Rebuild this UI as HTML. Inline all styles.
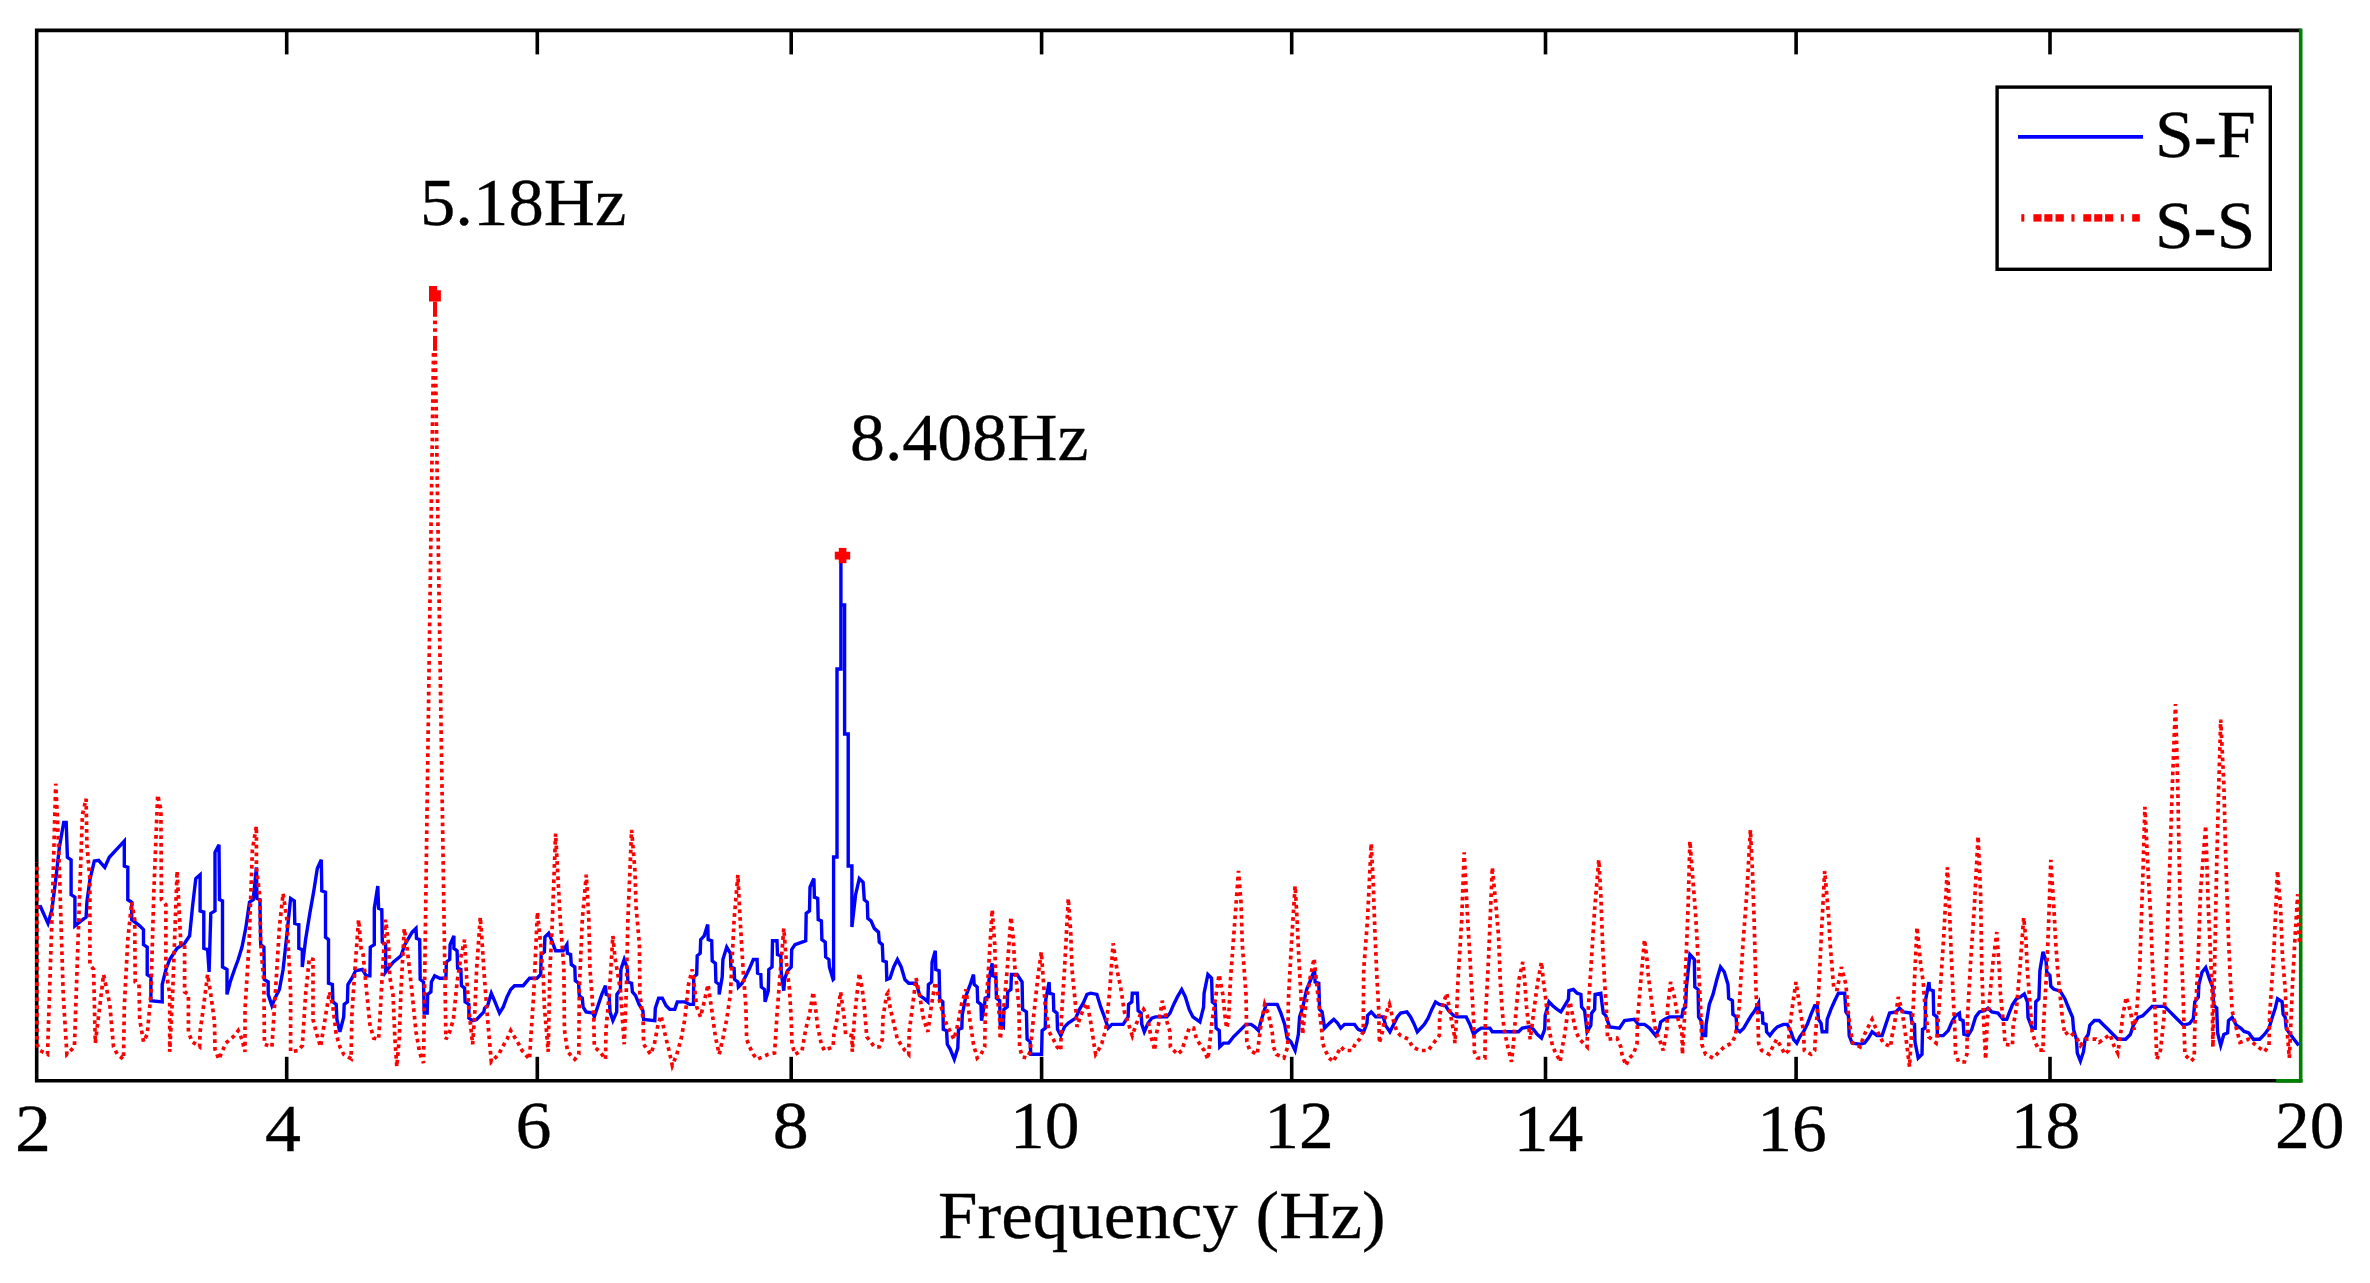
<!DOCTYPE html>
<html><head><meta charset="utf-8"><title>Frequency spectrum</title>
<style>
html,body{margin:0;padding:0;background:#fff;}
body{width:2370px;height:1283px;overflow:hidden;}
svg{display:block;}
text{font-family:"Liberation Serif",serif;fill:#000;stroke:#000;stroke-width:0.3;}
.ax{stroke:#000;stroke-width:3.6;fill:none;stroke-linecap:butt;}
.tl{font-size:67px;}
.bl{stroke:#0000ff;stroke-width:3.4;fill:none;stroke-linejoin:miter;}
.rd{stroke:#ff0000;stroke-width:3.7;fill:none;stroke-dasharray:3.7 4;}
</style></head><body>
<svg width="2370" height="1283" viewBox="0 0 2370 1283">
<rect x="0" y="0" width="2370" height="1283" fill="#fff"/>
<polyline class="ax" points="2300.7,30.4 36.7,30.4 36.7,1080.8 2300.7,1080.8"/>
<line x1="2300.7" y1="28.599999999999998" x2="2300.7" y2="1082.6" stroke="#008000" stroke-width="3.6"/>
<line x1="2276.2" y1="1080.8" x2="2302.5" y2="1080.8" stroke="#008000" stroke-width="3.6"/>
<line x1="286.7" y1="1080.8" x2="286.7" y2="1056.8" class="ax"/><line x1="286.7" y1="30.4" x2="286.7" y2="54.4" class="ax"/><line x1="537.3" y1="1080.8" x2="537.3" y2="1056.8" class="ax"/><line x1="537.3" y1="30.4" x2="537.3" y2="54.4" class="ax"/><line x1="791.2" y1="1080.8" x2="791.2" y2="1056.8" class="ax"/><line x1="791.2" y1="30.4" x2="791.2" y2="54.4" class="ax"/><line x1="1041.6" y1="1080.8" x2="1041.6" y2="1056.8" class="ax"/><line x1="1041.6" y1="30.4" x2="1041.6" y2="54.4" class="ax"/><line x1="1291.7" y1="1080.8" x2="1291.7" y2="1056.8" class="ax"/><line x1="1291.7" y1="30.4" x2="1291.7" y2="54.4" class="ax"/><line x1="1545.5" y1="1080.8" x2="1545.5" y2="1056.8" class="ax"/><line x1="1545.5" y1="30.4" x2="1545.5" y2="54.4" class="ax"/><line x1="1796.1" y1="1080.8" x2="1796.1" y2="1056.8" class="ax"/><line x1="1796.1" y1="30.4" x2="1796.1" y2="54.4" class="ax"/><line x1="2050.0" y1="1080.8" x2="2050.0" y2="1056.8" class="ax"/><line x1="2050.0" y1="30.4" x2="2050.0" y2="54.4" class="ax"/>
<polyline class="bl" points="36.2,907.2 40.5,906.7 48.0,923.4 51.9,909.7 55.7,879.7 59.4,847.3 63.7,822.4 66.2,822.4 67.4,857.3 71.1,859.8 71.1,894.7 74.9,897.2 74.9,925.9 81.1,920.9 86.1,917.1 86.9,902.2 89.9,879.7 94.3,861.0 98.6,860.3 104.8,867.3 109.3,857.3 117.3,848.6 124.3,841.1 124.3,866.0 127.8,867.3 127.8,899.7 131.7,902.2 131.7,919.6 139.7,925.9 143.5,929.6 143.5,944.6 147.2,947.1 147.2,974.5 150.9,977.0 150.9,1000.7 162.2,1001.9 162.2,984.5 165.9,969.5 169.7,959.5 177.1,948.3 184.6,943.3 189.6,935.8 192.6,905.9 195.8,878.5 200.1,874.7 200.1,910.9 203.8,912.1 203.8,948.3 207.6,949.6 209.1,972.0 210.8,913.4 215.0,910.9 215.0,852.3 219.0,844.8 219.5,899.7 222.5,900.9 222.5,967.0 227.0,969.5 227.0,994.4 230.2,982.0 234.5,969.5 238.2,959.5 242.0,947.1 245.7,928.4 249.5,902.2 253.2,899.7 256.4,867.3 256.9,898.4 259.9,899.7 260.7,944.6 263.9,947.1 264.4,979.5 268.2,982.0 268.2,994.4 271.9,1005.7 275.6,996.9 279.4,989.5 283.1,969.5 286.9,934.6 290.6,898.4 294.3,900.9 294.8,923.4 298.8,924.6 298.8,948.3 302.3,949.6 302.3,967.0 305.6,939.6 309.8,913.4 313.8,890.9 317.3,868.5 321.3,859.8 321.8,890.9 325.5,892.2 325.5,937.1 328.5,939.6 328.5,983.2 332.4,984.5 332.9,1001.9 336.2,1004.4 336.9,1019.4 339.9,1031.8 343.7,1016.9 344.2,1004.4 347.4,1001.9 347.9,984.5 351.9,978.2 355.6,970.7 362.4,969.5 366.1,975.7 369.9,975.7 370.3,947.1 374.3,944.6 374.3,908.4 377.8,886.0 378.6,908.4 381.8,909.7 382.3,942.1 385.6,944.6 385.6,972.0 389.3,967.0 393.5,962.0 401.0,955.8 404.8,944.6 408.5,938.3 412.2,932.1 416.0,928.4 416.5,938.3 419.7,939.6 420.2,979.5 423.5,982.0 424.2,1013.1 427.2,1013.1 427.7,994.4 430.9,991.9 431.4,982.0 434.7,975.7 439.7,978.2 445.9,978.2 446.4,962.0 449.7,959.5 450.1,944.6 453.9,935.8 453.9,948.3 457.1,950.8 457.6,968.3 460.9,969.5 461.4,985.7 464.6,988.2 465.1,1001.9 468.9,1004.4 468.9,1018.1 472.6,1020.6 476.6,1019.4 483.8,1011.9 484.6,1008.2 487.6,1005.7 491.3,993.2 495.0,1001.9 499.5,1013.1 503.3,1006.9 507.0,996.9 510.7,989.5 514.5,985.7 523.2,985.7 529.5,978.2 536.9,978.2 540.7,974.5 541.2,954.5 544.4,952.0 544.9,937.1 548.7,933.3 551.9,940.8 555.6,950.8 563.1,950.8 566.9,944.6 567.4,953.3 570.6,954.5 571.3,964.5 574.8,967.0 575.3,980.7 578.6,983.2 579.3,995.7 582.3,998.2 583.1,1006.9 586.1,1011.9 593.0,1013.1 594.3,1016.9 598.0,1005.7 601.8,994.4 605.5,985.7 606.2,994.4 609.2,995.7 610.0,1011.9 612.9,1020.6 616.7,1011.9 616.9,994.4 620.4,989.5 620.9,969.5 624.2,959.5 627.4,968.3 627.9,982.0 631.6,983.2 632.4,991.9 635.6,995.7 639.1,1004.4 642.9,1010.6 643.6,1019.4 654.8,1020.6 655.3,1008.2 658.6,998.2 662.3,998.2 666.1,1005.7 669.8,1009.4 674.8,1009.4 677.3,1001.9 684.8,1001.9 689.8,1004.4 693.5,1004.4 693.7,977.0 696.7,974.5 697.2,955.8 700.2,953.3 700.7,939.6 704.2,935.8 707.7,924.6 708.2,939.6 711.7,940.8 712.2,960.8 715.4,963.3 715.9,982.0 719.2,984.5 719.2,994.4 722.2,977.0 722.9,959.5 726.7,947.1 730.4,953.3 730.9,967.0 734.1,968.3 734.6,979.5 737.9,982.0 738.4,987.0 742.1,983.2 745.9,975.7 749.6,968.3 753.3,959.5 757.1,959.5 757.6,973.2 760.8,974.5 761.3,987.0 764.6,989.5 765.1,1001.9 768.3,990.7 768.8,969.5 772.0,967.0 772.5,940.8 777.0,940.8 777.5,954.5 780.8,955.8 781.3,973.2 783.8,990.7 784.5,979.5 787.5,970.7 791.2,967.0 791.7,949.6 795.0,944.6 802.0,942.1 805.7,940.8 806.2,913.4 809.5,910.9 810.0,887.2 813.9,878.5 814.4,897.2 817.7,898.4 818.2,919.6 821.4,920.9 821.9,939.6 825.2,942.1 825.7,957.0 828.9,959.5 829.4,967.0 833.1,979.5 833.6,979.0 833.6,857.0 837.0,857.0 837.0,669.0 840.9,669.0 840.9,556.0 840.9,605.0 844.6,605.0 844.6,734.0 848.2,734.0 848.2,866.0 851.9,866.0 851.9,927.0 855.6,894.7 859.3,878.5 863.1,882.2 864.3,899.7 867.3,902.2 867.8,918.4 871.0,920.9 874.3,928.4 878.5,932.1 879.3,942.1 882.3,944.6 883.0,960.8 886.3,962.0 886.8,979.5 890.0,978.2 893.7,967.0 897.4,959.5 901.2,967.0 904.9,979.5 908.7,983.2 916.1,983.2 919.9,995.7 923.6,998.2 927.9,1001.9 928.4,984.5 931.6,982.0 932.1,962.0 935.3,950.8 935.8,969.5 939.1,970.7 939.8,999.4 942.8,1001.9 943.3,1029.4 946.6,1030.6 947.3,1044.3 950.3,1049.3 954.3,1059.3 957.8,1048.1 958.5,1029.4 961.8,1028.1 962.3,1014.4 966.0,995.7 969.8,985.7 973.5,974.5 974.2,984.5 977.2,987.0 977.7,1001.9 981.0,1004.4 981.5,1020.6 984.7,1003.2 985.2,998.2 988.5,996.9 989.0,979.5 992.2,963.3 992.7,975.7 995.9,977.0 996.4,998.2 999.7,1000.7 1000.2,1024.4 1003.4,1026.9 1003.9,1009.4 1007.2,1006.9 1007.7,991.9 1010.9,989.5 1011.4,974.5 1017.1,974.5 1022.1,982.0 1022.6,1009.4 1026.4,1011.9 1027.1,1039.3 1030.1,1041.8 1030.8,1054.3 1041.6,1054.3 1042.1,1030.6 1045.3,1028.1 1045.8,999.4 1049.1,982.0 1049.6,993.2 1053.3,994.4 1053.8,1010.6 1057.0,1013.1 1057.5,1029.4 1060.8,1035.6 1064.5,1026.9 1068.3,1023.1 1075.7,1018.1 1079.5,1009.4 1083.2,1003.2 1087.0,994.4 1090.7,993.2 1096.9,994.4 1100.7,1006.9 1104.4,1016.9 1108.2,1028.1 1111.9,1024.4 1123.1,1024.4 1128.1,1016.9 1128.6,1004.4 1131.8,1001.9 1132.3,993.2 1137.3,993.2 1138.1,1010.6 1141.1,1013.1 1141.8,1024.4 1144.3,1031.8 1148.1,1023.1 1151.8,1018.1 1155.5,1016.9 1166.8,1016.9 1170.0,1013.1 1173.7,1004.4 1177.4,996.9 1181.7,989.5 1185.4,996.9 1189.2,1009.4 1192.9,1016.9 1199.9,1021.9 1203.6,1006.9 1204.1,993.2 1207.9,974.5 1211.6,978.2 1212.3,1001.9 1215.3,1004.4 1216.1,1028.1 1219.3,1030.6 1219.8,1046.8 1223.6,1043.1 1228.6,1043.1 1233.5,1036.8 1239.8,1030.6 1246.0,1024.4 1251.0,1024.4 1254.7,1026.9 1258.5,1030.6 1261.0,1020.6 1264.7,1009.4 1266.0,1004.4 1277.2,1004.4 1280.9,1013.1 1284.7,1024.4 1287.2,1038.1 1290.9,1041.8 1295.1,1050.5 1298.4,1034.3 1299.6,1016.9 1302.9,1006.9 1306.6,989.5 1310.8,979.5 1314.6,969.5 1315.1,982.0 1318.8,983.2 1319.6,1009.4 1322.1,1011.9 1324.6,1028.1 1329.6,1023.1 1333.8,1019.4 1337.5,1023.1 1340.8,1028.1 1344.5,1024.4 1354.5,1024.4 1358.2,1029.4 1363.7,1031.8 1367.0,1023.1 1367.5,1015.6 1371.2,1011.9 1375.7,1016.9 1383.2,1016.9 1385.7,1025.6 1389.9,1031.8 1393.6,1024.4 1397.4,1016.9 1400.6,1013.1 1406.9,1011.9 1410.6,1016.9 1414.3,1024.4 1417.3,1031.8 1424.3,1024.4 1428.1,1018.1 1431.8,1009.4 1435.5,1001.9 1439.3,1004.4 1445.5,1005.7 1448.7,1010.6 1453.7,1015.6 1457.4,1016.9 1466.2,1016.9 1469.9,1024.4 1473.6,1034.3 1477.4,1030.6 1481.1,1028.1 1489.9,1028.1 1492.3,1031.8 1518.5,1031.8 1522.3,1028.1 1529.8,1026.9 1533.5,1029.4 1537.2,1034.3 1541.5,1038.1 1544.7,1029.4 1545.2,1015.6 1549.0,1001.9 1552.7,1005.7 1557.2,1009.4 1560.9,1011.9 1564.7,1005.7 1568.4,999.4 1568.9,990.7 1573.4,989.5 1577.1,993.2 1580.9,994.4 1581.6,1006.9 1584.6,1010.6 1587.1,1031.8 1590.8,1025.6 1591.6,1013.1 1594.6,1009.4 1595.1,994.4 1600.8,993.2 1602.1,1004.4 1603.3,1013.1 1605.8,1015.6 1609.6,1026.9 1619.5,1028.1 1624.5,1020.6 1634.5,1019.4 1638.2,1024.4 1644.5,1024.4 1649.5,1028.1 1655.7,1035.6 1659.4,1028.1 1660.7,1021.9 1664.4,1019.4 1669.4,1016.9 1681.9,1016.9 1683.1,1009.4 1685.6,1006.9 1686.4,987.0 1689.9,954.5 1694.3,959.5 1694.8,987.0 1698.1,989.5 1698.6,1016.9 1701.8,1021.9 1702.3,1035.6 1705.6,1035.6 1706.1,1024.4 1709.3,1004.4 1713.0,994.4 1716.8,979.5 1720.5,967.0 1724.3,972.0 1728.0,984.5 1728.7,998.2 1732.4,1000.7 1732.9,1014.4 1736.2,1016.9 1736.7,1029.4 1739.9,1031.8 1743.7,1028.1 1747.4,1021.9 1751.1,1015.6 1754.9,1010.6 1758.6,1003.2 1759.1,1011.9 1762.4,1013.1 1762.9,1023.1 1766.1,1024.4 1766.6,1031.8 1769.9,1035.6 1773.6,1030.6 1777.3,1026.9 1783.6,1024.4 1787.3,1024.4 1791.0,1031.8 1793.5,1039.3 1796.8,1043.1 1799.8,1036.8 1803.5,1031.8 1807.3,1024.4 1811.0,1014.4 1814.7,1005.7 1817.2,1005.7 1818.5,1019.4 1821.0,1023.1 1822.2,1031.8 1826.7,1031.8 1827.2,1019.4 1830.9,1009.4 1834.7,1000.7 1838.4,993.2 1844.7,993.2 1845.9,1011.9 1848.4,1015.6 1849.2,1035.6 1852.1,1043.1 1859.6,1044.3 1864.6,1043.1 1868.4,1038.1 1872.1,1031.8 1877.1,1035.6 1882.1,1035.6 1885.8,1024.4 1889.6,1013.1 1895.8,1011.9 1899.5,1008.2 1903.3,1011.9 1910.7,1013.1 1912.0,1023.1 1914.5,1024.4 1915.0,1041.8 1918.2,1058.0 1922.0,1054.3 1922.5,1029.4 1925.0,1028.1 1925.7,999.4 1929.0,982.0 1929.5,989.5 1933.2,990.7 1933.7,1014.4 1936.9,1016.9 1937.4,1035.6 1943.2,1035.6 1948.2,1030.6 1951.9,1021.9 1955.6,1015.6 1959.4,1013.1 1960.1,1019.4 1963.1,1020.6 1963.9,1034.3 1968.1,1035.6 1971.8,1029.4 1975.6,1016.9 1979.3,1011.9 1984.3,1010.6 1988.1,1008.2 1991.8,1011.9 1998.0,1013.1 2003.0,1019.4 2006.8,1019.4 2008.7,1014.2 2012.4,1004.9 2016.5,998.7 2020.2,997.1 2024.3,994.0 2027.4,1001.8 2028.0,1017.4 2032.1,1028.3 2035.2,1028.3 2035.8,1001.8 2038.9,998.7 2039.9,970.6 2043.0,951.9 2046.1,961.2 2046.7,972.2 2049.9,975.3 2050.8,986.2 2053.9,989.3 2060.1,990.9 2064.8,998.7 2068.6,1008.0 2072.6,1017.4 2073.6,1029.8 2076.4,1039.2 2077.3,1053.2 2080.4,1061.0 2083.5,1051.7 2085.1,1039.2 2088.2,1034.5 2089.8,1025.2 2094.4,1020.5 2099.1,1020.5 2103.8,1025.2 2108.5,1029.8 2113.1,1034.5 2117.8,1039.2 2125.6,1039.2 2130.3,1034.5 2133.4,1025.2 2138.1,1017.4 2142.8,1015.8 2147.4,1011.1 2152.1,1006.4 2164.6,1006.4 2169.3,1011.1 2173.9,1015.8 2178.6,1020.5 2183.3,1025.2 2189.5,1023.6 2193.3,1018.9 2194.8,1001.8 2198.3,997.1 2198.9,984.6 2202.0,972.2 2205.7,967.5 2209.8,979.9 2212.9,987.7 2213.5,1004.9 2216.7,1008.0 2217.6,1032.9 2220.7,1045.4 2223.8,1034.5 2227.6,1032.9 2228.5,1020.5 2232.2,1017.4 2236.3,1025.2 2241.0,1028.3 2244.1,1031.4 2248.8,1032.9 2253.4,1039.2 2259.7,1039.2 2264.4,1034.5 2269.0,1028.3 2272.2,1017.4 2275.3,1008.0 2277.5,998.7 2282.1,1001.8 2283.1,1014.2 2285.2,1017.4 2286.2,1028.3 2289.3,1032.9 2294.0,1039.2 2298.7,1045.4"/>
<polyline class="rd" points="433.5,353.0 423.5,1063.0 419.7,1053.0 416.0,1031.8 412.2,994.4 409.8,972.0 407.3,949.6 404.3,928.4 401.0,989.5 399.3,1038.1 396.8,1066.8 394.8,1036.8 393.0,994.4 389.8,977.0 388.6,944.6 385.6,919.6 382.3,974.5 379.8,1019.4 378.6,1039.3 373.6,1038.1 369.9,1024.4 366.9,994.4 363.1,954.5 361.1,948.3 358.6,919.6 354.9,969.5 351.9,1014.4 351.1,1058.8 343.7,1054.3 339.9,1046.8 336.2,1034.3 332.9,1006.9 329.5,991.9 325.0,1019.4 320.5,1046.8 316.8,1034.3 313.0,1019.4 313.0,959.5 309.3,958.3 305.6,994.4 302.3,1045.6 298.1,1050.5 290.6,1051.8 290.6,991.9 286.9,919.6 283.1,893.4 279.4,927.1 275.6,989.5 271.9,1046.8 264.4,1044.3 263.9,982.0 260.7,944.6 259.9,897.2 256.4,867.3 256.4,826.1 252.4,849.8 249.0,944.6 245.0,1009.4 245.0,1051.8 242.0,1039.3 238.2,1030.6 234.5,1035.6 225.8,1043.1 218.8,1059.3 215.0,1049.3 214.5,1021.9 210.8,994.4 207.6,974.5 203.8,1004.4 200.1,1031.8 199.6,1046.8 192.1,1041.8 188.4,1031.8 188.4,994.4 184.6,991.9 184.6,944.6 180.9,944.6 177.1,871.0 172.6,994.4 169.7,1051.8 169.7,994.4 165.9,969.5 165.9,904.7 161.4,899.7 160.9,809.9 157.7,794.9 153.9,889.7 150.9,994.4 147.2,1034.3 143.5,1041.8 139.7,1019.4 139.0,984.5 135.2,982.0 134.7,919.6 131.7,902.2 127.8,939.6 124.3,1006.9 123.5,1059.3 117.3,1054.3 113.5,1046.8 109.8,1004.4 103.6,974.5 95.3,1043.1 93.6,969.5 89.9,964.5 89.9,879.7 86.9,844.8 86.1,798.7 82.4,814.9 78.6,924.6 74.4,1046.8 66.9,1054.3 63.2,994.4 59.4,869.8 57.4,817.4 55.7,783.7 51.9,919.6 47.5,1054.3 40.0,1050.5 37.0,1044.3 37.0,862.3"/>
<polyline class="rd" points="435.3,353.0 445.9,1039.3 449.7,1031.8 453.4,1019.4 457.1,982.0 460.9,957.0 464.6,939.6 466.6,977.0 468.9,1009.4 472.6,1044.3 474.6,1016.9 476.6,969.5 480.3,917.1 482.1,942.1 483.8,969.5 487.6,1019.4 491.3,1061.8 498.8,1054.3 502.5,1046.8 507.0,1039.3 510.7,1030.6 518.2,1043.1 522.0,1050.5 529.5,1059.3 530.7,1039.3 533.7,994.4 537.4,912.1 540.7,944.6 543.2,977.0 544.4,1006.9 548.2,1051.8 549.9,969.5 551.9,932.1 555.6,833.6 560.1,917.1 563.9,969.5 564.4,1029.4 567.6,1051.8 574.8,1059.3 578.8,1054.3 579.3,989.5 582.3,919.6 586.3,874.7 588.8,919.6 590.0,969.5 593.8,1019.4 594.3,1046.8 600.0,1051.8 605.5,1059.3 606.0,1029.4 609.2,994.4 612.9,935.8 614.9,957.0 617.4,972.0 620.4,989.5 622.4,1019.4 624.2,1044.3 626.2,994.4 627.9,919.6 631.6,829.9 634.9,869.8 636.1,907.2 639.4,944.6 639.9,994.4 643.1,1019.4 643.6,1044.3 650.6,1054.3 654.3,1044.3 658.1,1024.4 661.1,1015.6 665.6,1036.8 669.3,1051.8 672.3,1065.5 676.8,1054.3 681.0,1039.3 684.8,1019.4 688.5,984.5 692.2,969.5 694.7,989.5 696.7,1006.9 700.5,1016.9 704.2,1001.9 708.0,984.5 711.7,1009.4 715.4,1036.8 719.2,1054.3 722.9,1038.1 726.7,1019.4 730.4,994.4 734.1,919.6 737.9,874.7 739.6,909.7 741.6,944.6 743.4,974.5 745.9,1006.9 746.6,1039.3 749.6,1046.8 753.3,1054.3 757.1,1059.3 768.3,1054.3 774.5,1053.0 775.8,1034.3 777.0,1014.4 779.5,982.0 783.8,928.4 787.0,969.5 789.5,989.5 791.2,1019.4 792.0,1044.3 795.0,1054.3 802.0,1050.5 805.7,1029.4 809.5,1014.4 813.2,991.9 815.7,1009.4 817.7,1026.9 821.4,1044.3 824.4,1050.5 833.1,1046.8 833.9,1034.3 836.9,1019.4 840.6,991.9 844.4,1019.4 845.6,1034.3 851.8,1035.6 852.3,1051.8 854.3,1019.4 856.1,1001.9 859.3,973.2 862.3,989.5 864.3,1006.9 866.8,1036.8 874.3,1046.8 879.3,1046.8 882.3,1039.3 883.0,1016.9 886.8,994.4 888.0,992.7 890.0,1006.9 893.7,1023.1 897.4,1039.3 904.9,1050.5 908.7,1054.3 909.2,1031.8 912.4,1006.9 916.1,978.2 919.9,996.9 923.6,1019.4 927.9,1031.8 931.6,1004.4 935.3,982.0 939.1,999.4 942.8,1013.1 946.6,1024.4 954.0,1039.3 957.8,1024.4 961.5,1004.4 966.0,989.5 969.8,1019.4 973.5,1044.3 977.2,1058.0 981.0,1054.3 984.7,1046.8 985.2,1019.4 988.5,969.5 992.2,909.7 994.7,944.6 995.9,982.0 999.7,1019.4 1000.2,1039.3 1003.4,1011.9 1007.2,969.5 1010.9,917.1 1013.4,939.6 1014.6,964.5 1018.9,1006.9 1019.6,1046.8 1022.1,1056.8 1027.1,1058.0 1030.1,1051.8 1033.8,1014.4 1037.6,979.5 1041.3,952.0 1043.3,979.5 1045.3,1006.9 1049.1,1031.8 1053.3,1039.3 1057.0,1046.8 1060.8,1050.5 1061.3,1019.4 1064.5,969.5 1068.3,898.4 1070.7,932.1 1072.0,969.5 1075.7,1006.9 1077.0,1026.9 1079.5,1019.4 1083.2,1009.4 1087.0,1003.2 1090.7,1021.9 1094.4,1046.8 1095.7,1054.3 1098.2,1050.5 1101.9,1043.1 1105.7,1029.4 1109.4,994.4 1113.1,943.3 1116.9,969.5 1120.6,987.0 1124.4,1011.9 1128.6,1024.4 1132.3,1035.6 1136.1,1024.4 1139.8,1015.6 1143.6,1009.4 1147.3,1015.6 1151.0,1036.8 1154.8,1050.5 1155.5,1038.1 1158.5,1024.4 1162.3,1000.7 1166.0,1016.9 1166.2,1019.4 1170.0,1031.8 1170.4,1046.8 1177.4,1054.3 1181.7,1050.5 1185.4,1039.3 1189.2,1028.1 1193.6,1028.1 1196.6,1039.3 1204.1,1050.5 1207.9,1059.3 1209.9,1041.8 1211.6,1024.4 1215.3,999.4 1219.1,974.5 1222.8,994.4 1224.8,1014.4 1226.6,1028.1 1228.6,1019.4 1230.3,982.0 1234.0,932.1 1238.5,871.0 1241.0,902.2 1242.3,944.6 1246.0,994.4 1246.8,1041.8 1249.8,1050.5 1257.2,1054.3 1261.0,1024.4 1264.7,1004.4 1268.5,1014.4 1272.2,1031.8 1273.4,1046.8 1276.4,1054.3 1283.9,1058.0 1287.7,1046.8 1288.4,999.4 1291.4,944.6 1295.1,886.0 1297.1,919.6 1298.9,959.5 1300.9,994.4 1302.6,1034.3 1304.6,1014.4 1306.6,999.4 1310.3,977.0 1314.1,958.3 1317.8,994.4 1321.6,1029.4 1322.6,1043.1 1325.3,1050.5 1329.1,1058.0 1333.3,1061.8 1337.0,1054.3 1340.8,1046.8 1344.5,1050.5 1352.0,1050.5 1355.7,1043.1 1359.5,1039.3 1363.2,1031.8 1363.7,969.5 1367.5,919.6 1371.2,843.6 1373.2,882.2 1374.9,932.1 1376.9,977.0 1378.7,1009.4 1379.4,1043.1 1382.4,1031.8 1385.7,1014.4 1389.4,1004.4 1393.1,1019.4 1396.9,1031.8 1400.6,1035.6 1408.6,1039.3 1412.3,1046.8 1419.8,1050.5 1428.1,1050.5 1439.3,1035.6 1439.8,1014.4 1443.0,1004.4 1446.8,993.2 1450.4,1014.4 1454.2,1034.3 1454.9,1043.1 1456.2,1024.4 1457.9,982.0 1461.7,919.6 1464.2,852.3 1467.4,914.6 1469.9,957.0 1471.9,991.9 1473.6,1019.4 1474.4,1051.8 1477.4,1058.0 1484.9,1058.0 1485.4,1019.4 1488.6,957.0 1492.3,867.3 1496.1,907.2 1498.6,937.1 1500.3,982.0 1502.3,1011.9 1504.1,1029.4 1507.8,1046.8 1511.5,1061.8 1513.5,1043.1 1515.3,1019.4 1519.0,979.5 1522.8,962.0 1524.8,982.0 1526.5,1006.9 1530.2,1039.3 1532.2,1024.4 1534.0,1009.4 1537.7,982.0 1541.5,962.0 1543.5,982.0 1545.2,994.4 1549.0,1029.4 1552.7,1046.8 1560.2,1061.8 1561.7,1050.5 1564.7,1034.3 1568.4,1006.9 1570.1,1001.9 1573.4,1019.4 1575.9,1031.8 1579.6,1039.3 1587.1,1046.8 1587.6,1019.4 1590.8,969.5 1594.6,909.7 1598.8,859.8 1600.8,894.7 1602.6,944.6 1604.6,982.0 1606.3,1006.9 1607.6,1039.3 1617.0,1038.1 1620.8,1046.8 1622.0,1054.3 1625.8,1065.5 1629.5,1058.0 1633.2,1054.3 1637.0,1044.3 1637.5,1019.4 1640.7,982.0 1644.5,939.6 1647.0,959.5 1648.2,974.5 1651.9,1004.4 1655.7,1031.8 1659.4,1039.3 1663.2,1050.5 1666.9,1029.4 1667.4,1009.4 1670.6,982.0 1674.4,996.9 1678.1,1019.4 1681.9,1031.8 1682.4,1054.3 1684.4,1019.4 1685.6,969.5 1688.1,907.2 1689.9,841.1 1693.1,882.2 1695.6,914.6 1697.3,944.6 1700.6,1006.9 1701.8,1044.3 1705.6,1054.3 1713.0,1058.0 1724.3,1046.8 1731.7,1043.1 1735.4,1035.6 1739.2,1006.9 1742.9,944.6 1746.7,894.7 1750.4,829.9 1752.4,869.8 1754.1,919.6 1756.1,994.4 1757.9,1019.4 1758.6,1043.1 1761.6,1050.5 1769.1,1054.3 1772.8,1046.8 1776.6,1039.3 1781.1,1046.8 1784.8,1054.3 1788.6,1050.5 1789.1,1031.8 1792.3,1006.9 1796.0,982.0 1799.8,1006.9 1803.5,1031.8 1804.3,1050.5 1811.0,1054.3 1814.7,1050.5 1815.2,1039.3 1818.5,994.4 1821.5,932.1 1824.7,871.0 1828.5,914.6 1830.2,944.6 1832.2,969.5 1833.9,989.5 1837.2,989.5 1841.4,967.0 1845.9,984.5 1848.9,1019.4 1852.6,1043.1 1860.1,1046.8 1863.9,1035.6 1867.6,1028.1 1872.1,1019.4 1875.8,1028.1 1879.6,1035.6 1883.3,1043.1 1890.8,1046.8 1891.3,1039.3 1894.5,1024.4 1898.3,996.9 1902.0,1010.6 1905.8,1036.8 1909.5,1066.8 1911.2,1039.3 1913.2,1006.9 1915.0,969.5 1917.0,927.1 1920.7,964.5 1923.2,982.0 1925.0,1006.9 1928.7,1036.8 1936.2,1043.1 1936.9,1039.3 1939.9,994.4 1943.7,937.1 1947.4,867.3 1949.4,907.2 1951.1,952.0 1953.1,994.4 1954.9,1031.8 1955.6,1054.3 1958.6,1061.8 1964.4,1061.8 1966.9,1054.3 1967.4,1019.4 1970.6,962.0 1974.3,907.2 1978.1,836.1 1980.6,894.7 1981.8,969.5 1983.6,1019.4 1985.6,1059.3 1987.3,1019.4 1989.3,1001.9 1993.0,962.0 1996.8,932.1 1999.3,969.5 2000.5,994.4 2004.3,1031.8 2005.0,1044.3 2012.4,1045.4 2013.1,1026.7 2016.5,1008.0 2020.2,964.4 2023.7,917.6 2025.9,939.4 2027.4,970.6 2029.9,1001.8 2032.1,1031.4 2035.2,1042.3 2038.9,1050.1 2043.0,1050.1 2043.6,1023.6 2046.7,970.6 2048.6,923.8 2050.8,859.9 2053.9,908.2 2055.5,939.4 2057.7,970.6 2060.1,995.5 2062.3,1017.4 2064.8,1034.5 2069.5,1031.4 2072.6,1034.5 2077.3,1039.2 2080.4,1045.4 2085.1,1039.2 2096.0,1039.2 2099.1,1042.3 2110.0,1034.5 2113.8,1045.4 2117.8,1053.2 2121.6,1026.7 2122.5,1017.4 2126.2,997.1 2130.3,1011.1 2134.0,1029.8 2137.2,1004.9 2139.6,970.6 2141.2,923.8 2142.8,877.1 2144.9,806.9 2148.4,877.1 2150.6,914.5 2152.7,970.6 2155.2,1014.2 2156.8,1059.4 2160.5,1050.1 2164.0,1017.4 2166.1,970.6 2167.7,923.8 2169.9,861.5 2172.4,783.5 2175.5,704.0 2177.7,783.5 2179.2,861.5 2180.8,933.2 2183.3,1001.8 2184.9,1054.8 2191.1,1061.0 2194.2,1057.9 2194.8,1026.7 2198.3,955.0 2200.4,892.7 2205.7,825.6 2208.2,905.1 2209.8,939.4 2212.0,986.2 2212.9,1047.0 2214.5,970.6 2216.7,864.6 2218.5,794.4 2220.7,719.6 2223.8,783.5 2225.4,845.9 2226.9,892.7 2228.5,939.4 2230.7,986.2 2232.2,1011.1 2236.3,1028.3 2240.0,1042.3 2248.8,1039.2 2258.1,1047.0 2264.4,1051.7 2269.0,1045.4 2269.7,1014.2 2273.7,955.0 2277.5,870.8 2280.6,908.2 2282.4,955.0 2285.2,989.3 2286.8,1026.7 2289.3,1057.9 2290.5,1032.9 2292.4,986.2 2294.9,939.4 2297.7,894.2 2299.6,945.7"/>
<path fill="#f00" d="M429,286H437.1V290.2H440.9V301.6H429Z"/><rect x="433" y="301.6" width="4.1" height="15.2" fill="#f00"/><rect x="433" y="320.6" width="4.1" height="3.6" fill="#f00"/><rect x="433" y="328.3" width="4.1" height="3.5" fill="#f00"/><rect x="433" y="335.9" width="4.1" height="14.9" fill="#f00"/>
<rect x="834.8" y="551.7" width="15.4" height="7.8" fill="#f00"/>
<rect x="838.8" y="547.9" width="7.6" height="15.3" fill="#f00"/>
<text x="15.0" y="1151" class="tl" textLength="36" lengthAdjust="spacingAndGlyphs">2</text><text x="264.9" y="1151" class="tl" textLength="36" lengthAdjust="spacingAndGlyphs">4</text><text x="515.4" y="1147.5" class="tl" textLength="36" lengthAdjust="spacingAndGlyphs">6</text><text x="772.7" y="1147.5" class="tl" textLength="36" lengthAdjust="spacingAndGlyphs">8</text><text x="1009.9" y="1147.5" class="tl" textLength="69.5" lengthAdjust="spacingAndGlyphs">10</text><text x="1264.2" y="1147.5" class="tl" textLength="69.5" lengthAdjust="spacingAndGlyphs">12</text><text x="1513.8" y="1151" class="tl" textLength="69.5" lengthAdjust="spacingAndGlyphs">14</text><text x="1757.2" y="1151" class="tl" textLength="69.5" lengthAdjust="spacingAndGlyphs">16</text><text x="2010.8" y="1147.5" class="tl" textLength="69.5" lengthAdjust="spacingAndGlyphs">18</text><text x="2275.1" y="1147.5" class="tl" textLength="69.5" lengthAdjust="spacingAndGlyphs">20</text>
<rect x="1997.1" y="87.1" width="273.2" height="182.2" fill="#fff" stroke="#000" stroke-width="3.4"/>
<line x1="2018" y1="136.8" x2="2143" y2="136.8" stroke="#00f" stroke-width="3.8"/>
<rect x="2021.3" y="214.2" width="3.0" height="7.4" fill="#f00"/><rect x="2033.4" y="214.2" width="8.1" height="7.4" fill="#f00"/><rect x="2044.3" y="214.2" width="8.1" height="7.4" fill="#f00"/><rect x="2055.5" y="214.2" width="8.3" height="7.4" fill="#f00"/><rect x="2071.4" y="214.2" width="3.1" height="7.4" fill="#f00"/><rect x="2083.3" y="214.2" width="7.9" height="7.4" fill="#f00"/><rect x="2094.2" y="214.2" width="8.1" height="7.4" fill="#f00"/><rect x="2105.1" y="214.2" width="8.1" height="7.4" fill="#f00"/><rect x="2120.8" y="214.2" width="3.0" height="7.4" fill="#f00"/><rect x="2132.2" y="214.2" width="7.6" height="7.4" fill="#f00"/>
<text x="2155" y="157" class="tl" textLength="100.6" lengthAdjust="spacingAndGlyphs">S-F</text>
<text x="2155" y="248" class="tl" textLength="100.2" lengthAdjust="spacingAndGlyphs">S-S</text>
<text x="420" y="224.5" class="tl" textLength="206.3" lengthAdjust="spacingAndGlyphs">5.18Hz</text>
<text x="850" y="459.5" class="tl" textLength="238.4" lengthAdjust="spacingAndGlyphs">8.408Hz</text>
<text x="938" y="1237.5" class="tl" textLength="447.6" lengthAdjust="spacingAndGlyphs">Frequency (Hz)</text>
</svg>
</body></html>
